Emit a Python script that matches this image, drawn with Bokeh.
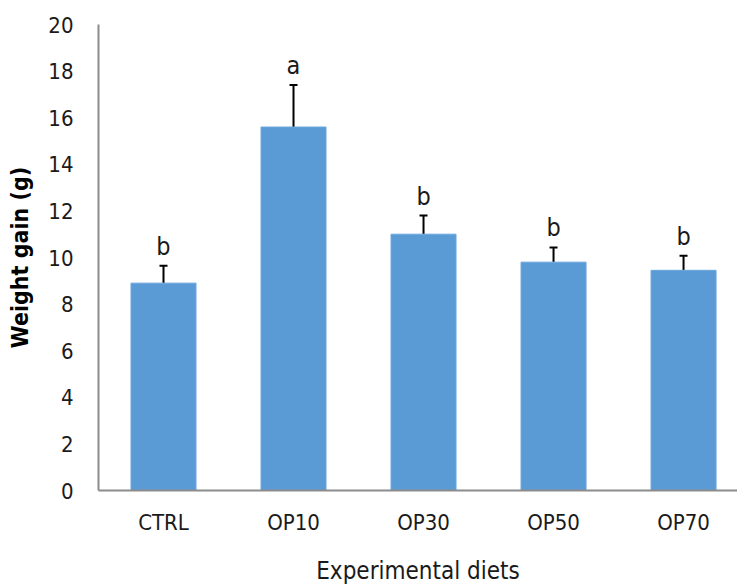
from bokeh.plotting import figure
from bokeh.models import ColumnDataSource, Range1d, FixedTicker, Whisker, TeeHead
from bokeh.core.properties import value
from bokeh.embed import file_html
from bokeh.resources import INLINE

# Weight gain per experimental diet
diets = ["CTRL", "OP10", "OP30", "OP50", "OP70"]
weight_gain = [8.9, 15.6, 11.0, 9.8, 9.45]
std_err = [0.75, 1.8, 0.8, 0.63, 0.63]
groups = ["b", "a", "b", "b", "b"]
y_ticks = [0, 2, 4, 6, 8, 10, 12, 14, 16, 18, 20]

FONT = "DejaVu Sans Condensed, Liberation Sans Narrow, Lato, sans-serif"
TEXT = "#1a1a1a"
AXIS = "#8c8c8c"

xs = list(range(len(diets)))
src = ColumnDataSource(dict(
    x=xs,
    mean=weight_gain,
    top=[m + e for m, e in zip(weight_gain, std_err)],
    grp=groups,
))

p = figure(width=737, height=587, output_backend="svg", toolbar_location=None,
           x_range=Range1d(-0.5, 4.415), y_range=Range1d(0, 20))
p.min_border_left = 98
p.min_border_right = 0
p.min_border_top = 24
p.min_border_bottom = 97
p.outline_line_color = None
p.xgrid.visible = False
p.ygrid.visible = False

p.vbar(x="x", top="mean", bottom=0, width=0.5, source=src,
       fill_color="#5b9bd5", line_color="#6aa6dc", line_width=1)

err = Whisker(base="x", lower="mean", upper="top", source=src,
              line_color="black", line_width=2, lower_head=None,
              upper_head=TeeHead(size=8, line_color="black", line_width=2))
p.add_layout(err)

p.text(x="x", y="top", text="grp", source=src, text_align="center",
       text_baseline="bottom", y_offset=-5, text_font=value(FONT),
       text_font_size="25px", text_color=TEXT)

# x axis
p.xaxis.ticker = FixedTicker(ticks=xs)
p.xaxis.major_label_overrides = {i: d for i, d in enumerate(diets)}
p.xaxis.axis_label = "Experimental diets"
p.xaxis.axis_label_text_font = FONT
p.xaxis.axis_label_text_font_style = "normal"
p.xaxis.axis_label_text_font_size = "24px"
p.xaxis.axis_label_text_color = TEXT
p.xaxis.axis_label_standoff = 19
p.xaxis.major_label_text_font = FONT
p.xaxis.major_label_text_font_size = "22px"
p.xaxis.major_label_text_color = TEXT
p.xaxis.major_label_standoff = 13
p.xaxis.major_tick_line_color = None
p.xaxis.minor_tick_line_color = None
p.xaxis.axis_line_color = AXIS
p.xaxis.axis_line_width = 2

# y axis
p.yaxis.ticker = FixedTicker(ticks=y_ticks)
p.yaxis.axis_label = "Weight gain (g)"
p.yaxis.axis_label_text_font = FONT
p.yaxis.axis_label_text_font_style = "bold"
p.yaxis.axis_label_text_font_size = "23px"
p.yaxis.axis_label_text_color = "black"
p.yaxis.axis_label_standoff = 12
p.yaxis.major_label_text_font = FONT
p.yaxis.major_label_text_font_size = "22px"
p.yaxis.major_label_text_color = TEXT
p.yaxis.major_label_standoff = 19
p.yaxis.major_tick_line_color = None
p.yaxis.minor_tick_line_color = None
p.yaxis.axis_line_color = AXIS
p.yaxis.axis_line_width = 2

open("out.html", "w").write(file_html(p, INLINE))
